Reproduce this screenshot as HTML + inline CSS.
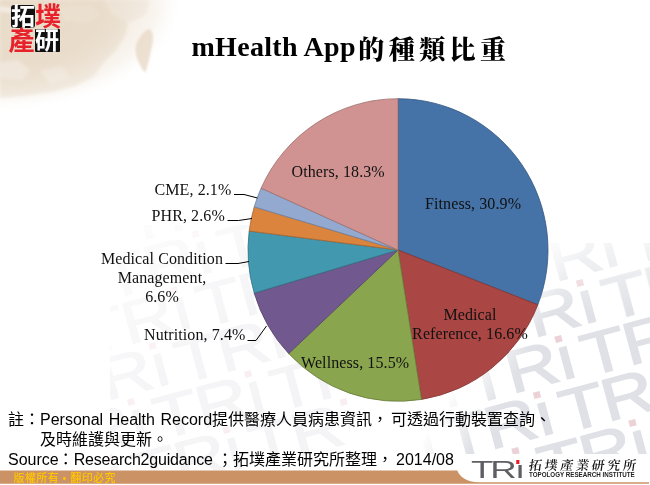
<!DOCTYPE html>
<html lang="zh-Hant">
<head>
<meta charset="utf-8">
<title>mHealth App的種類比重</title>
<style>
html,body{margin:0;padding:0;background:#fff;}
#slide{position:relative;width:650px;height:485px;overflow:hidden;background:#fff;font-family:"Liberation Sans","Noto Sans CJK TC",sans-serif;}
#slide *{box-sizing:border-box;}
.abs{position:absolute;white-space:nowrap;}
#bg{position:absolute;left:0;top:0;width:650px;height:485px;}
#title{left:191.5px;top:30.5px;font-family:"Liberation Serif","Noto Serif CJK SC",serif;font-weight:bold;font-size:28px;line-height:32px;color:#000;letter-spacing:0.3px;}
#title .cjk{letter-spacing:4.4px;font-size:26px;margin-left:2.5px;position:relative;top:3px;font-weight:900;}
.lbl{font-family:"Liberation Serif",serif;font-size:16px;line-height:19px;color:#111;text-align:center;letter-spacing:0.1px;}
.note{font-family:"Liberation Sans","Noto Sans CJK TC",sans-serif;font-size:16px;line-height:20px;color:#000;}
#copy{left:13.5px;top:472px;font-size:11px;line-height:13px;letter-spacing:0.4px;color:#ffc600;font-weight:500;font-family:"Liberation Sans","Noto Sans CJK TC",sans-serif;}
.lg{font-family:"Noto Sans CJK TC","Liberation Sans",sans-serif;font-weight:700;font-size:26px;line-height:24px;width:26px;height:24px;text-align:center;margin-left:-0.5px;margin-top:-0.5px;}
</style>
</head>
<body>
<div id="slide">
<svg id="bg" width="650" height="485" viewBox="0 0 650 485">
  <defs>
    <radialGradient id="g1" cx="0" cy="0" r="1" gradientUnits="userSpaceOnUse" gradientTransform="translate(0,0) scale(185,112)">
      <stop offset="0" stop-color="#efe5d8" stop-opacity="1"/>
      <stop offset="0.6" stop-color="#f1e8dc" stop-opacity="1"/>
      <stop offset="0.85" stop-color="#f6f0e8" stop-opacity="0.7"/>
      <stop offset="1" stop-color="#ffffff" stop-opacity="0"/>
    </radialGradient>
    <radialGradient id="g2" cx="0" cy="0" r="1" gradientUnits="userSpaceOnUse" gradientTransform="translate(0,0) scale(172,112)">
      <stop offset="0" stop-color="#fff" stop-opacity="1"/>
      <stop offset="0.6" stop-color="#fff" stop-opacity="0.95"/>
      <stop offset="0.9" stop-color="#fff" stop-opacity="0.35"/>
      <stop offset="1" stop-color="#fff" stop-opacity="0"/>
    </radialGradient>
    <mask id="mLand"><rect x="0" y="0" width="200" height="130" fill="url(#g2)"/></mask>
    <linearGradient id="wmR" gradientUnits="userSpaceOnUse" x1="480" y1="337" x2="523" y2="362">
      <stop offset="0" stop-color="#fff" stop-opacity="0"/>
      <stop offset="1" stop-color="#fff" stop-opacity="1"/>
    </linearGradient>
    <linearGradient id="wmRv" gradientUnits="userSpaceOnUse" x1="0" y1="243" x2="0" y2="315">
      <stop offset="0" stop-color="#000" stop-opacity="0.65"/>
      <stop offset="1" stop-color="#000" stop-opacity="0"/>
    </linearGradient>
    <mask id="mR"><path d="M540,243 L650,243 L650,454 L415,454 Z" fill="url(#wmR)"/><rect x="400" y="243" width="250" height="72" fill="url(#wmRv)"/></mask>
    <linearGradient id="wmL" gradientUnits="userSpaceOnUse" x1="120" y1="230" x2="300" y2="440">
      <stop offset="0" stop-color="#fff" stop-opacity="0.2"/>
      <stop offset="0.5" stop-color="#fff" stop-opacity="0.9"/>
      <stop offset="1" stop-color="#fff" stop-opacity="1"/>
    </linearGradient>
    <mask id="mL"><rect x="110" y="225" width="240" height="245" fill="url(#wmL)"/></mask>
    <filter id="bl" x="-20%" y="-20%" width="140%" height="140%"><feGaussianBlur stdDeviation="1.8"/></filter>
    <filter id="bl1" x="-20%" y="-20%" width="140%" height="140%"><feGaussianBlur stdDeviation="1"/></filter>
  </defs>
  <rect x="0" y="0" width="260" height="140" fill="url(#g1)"/>
  <g mask="url(#mLand)">
    <g filter="url(#bl)">
      <path d="M0,0 L104,0 L112,14 L128,22 L126,34 L116,50 L104,62 L94,76 L76,86 L52,92 L24,96 L0,98 Z" fill="#e8dbc9"/>
      <path d="M104,0 L150,0 L146,14 L130,22 L112,14 Z" fill="#ece2d4"/>
      <path d="M0,6 L16,9 L14,13 L0,12 Z" fill="#f3ece2"/>
      <path d="M0,62 L18,60 L30,70 L22,80 L0,78 Z" fill="#efe6da"/>
      <path d="M40,70 L62,66 L70,78 L50,84 Z" fill="#eee4d7"/>
      <path d="M60,8 L90,4 L100,16 L84,24 L66,20 Z" fill="#eadfce"/>
    </g>
  </g>
  <path d="M149,29 C153,30 154,38 152,46 C150,56 148,66 145,73 C140,66 134,56 136,46 C138,38 144,30 149,29 Z" fill="#eadccb" filter="url(#bl1)" opacity="0.85"/>
  <!-- watermark right -->
  <g mask="url(#mR)" font-family="Liberation Sans, sans-serif">
    <g transform="translate(417.9 265.0) rotate(-15) scale(1.22 1)"><text x="0" y="0" font-size="60" letter-spacing="-1.5" fill="#dfe1e6" stroke="#dfe1e6" stroke-width="1.3">TRı</text><rect x="80.9" y="-44.1" width="5.7" height="6.3" fill="#ecd2d6"/></g>
    <g transform="translate(534.9 237.0) rotate(-15) scale(1.22 1)"><text x="0" y="0" font-size="60" letter-spacing="-1.5" fill="#dfe1e6" stroke="#dfe1e6" stroke-width="1.3">TRı</text><rect x="80.9" y="-44.1" width="5.7" height="6.3" fill="#ecd2d6"/></g>
    <g transform="translate(651.9 209.0) rotate(-15) scale(1.22 1)"><text x="0" y="0" font-size="60" letter-spacing="-1.5" fill="#dfe1e6" stroke="#dfe1e6" stroke-width="1.3">TRı</text><rect x="80.9" y="-44.1" width="5.7" height="6.3" fill="#ecd2d6"/></g>
    <g transform="translate(396.4 321.0) rotate(-15) scale(1.22 1)"><text x="0" y="0" font-size="60" letter-spacing="-1.5" fill="#dfe1e6" stroke="#dfe1e6" stroke-width="1.3">TRı</text><rect x="80.9" y="-44.1" width="5.7" height="6.3" fill="#ecd2d6"/></g>
    <g transform="translate(513.4 293.0) rotate(-15) scale(1.22 1)"><text x="0" y="0" font-size="60" letter-spacing="-1.5" fill="#dfe1e6" stroke="#dfe1e6" stroke-width="1.3">TRı</text><rect x="80.9" y="-44.1" width="5.7" height="6.3" fill="#ecd2d6"/></g>
    <g transform="translate(630.4 265.0) rotate(-15) scale(1.22 1)"><text x="0" y="0" font-size="60" letter-spacing="-1.5" fill="#dfe1e6" stroke="#dfe1e6" stroke-width="1.3">TRı</text><rect x="80.9" y="-44.1" width="5.7" height="6.3" fill="#ecd2d6"/></g>
    <g transform="translate(374.9 377.0) rotate(-15) scale(1.22 1)"><text x="0" y="0" font-size="60" letter-spacing="-1.5" fill="#dfe1e6" stroke="#dfe1e6" stroke-width="1.3">TRı</text><rect x="80.9" y="-44.1" width="5.7" height="6.3" fill="#ecd2d6"/></g>
    <g transform="translate(491.9 349.0) rotate(-15) scale(1.22 1)"><text x="0" y="0" font-size="60" letter-spacing="-1.5" fill="#dfe1e6" stroke="#dfe1e6" stroke-width="1.3">TRı</text><rect x="80.9" y="-44.1" width="5.7" height="6.3" fill="#ecd2d6"/></g>
    <g transform="translate(608.9 321.0) rotate(-15) scale(1.22 1)"><text x="0" y="0" font-size="60" letter-spacing="-1.5" fill="#dfe1e6" stroke="#dfe1e6" stroke-width="1.3">TRı</text><rect x="80.9" y="-44.1" width="5.7" height="6.3" fill="#ecd2d6"/></g>
    <g transform="translate(353.4 433.0) rotate(-15) scale(1.22 1)"><text x="0" y="0" font-size="60" letter-spacing="-1.5" fill="#dfe1e6" stroke="#dfe1e6" stroke-width="1.3">TRı</text><rect x="80.9" y="-44.1" width="5.7" height="6.3" fill="#ecd2d6"/></g>
    <g transform="translate(470.4 405.0) rotate(-15) scale(1.22 1)"><text x="0" y="0" font-size="60" letter-spacing="-1.5" fill="#dfe1e6" stroke="#dfe1e6" stroke-width="1.3">TRı</text><rect x="80.9" y="-44.1" width="5.7" height="6.3" fill="#ecd2d6"/></g>
    <g transform="translate(587.4 377.0) rotate(-15) scale(1.22 1)"><text x="0" y="0" font-size="60" letter-spacing="-1.5" fill="#dfe1e6" stroke="#dfe1e6" stroke-width="1.3">TRı</text><rect x="80.9" y="-44.1" width="5.7" height="6.3" fill="#ecd2d6"/></g>
    <g transform="translate(331.9 489.0) rotate(-15) scale(1.22 1)"><text x="0" y="0" font-size="60" letter-spacing="-1.5" fill="#dfe1e6" stroke="#dfe1e6" stroke-width="1.3">TRı</text><rect x="80.9" y="-44.1" width="5.7" height="6.3" fill="#ecd2d6"/></g>
    <g transform="translate(448.9 461.0) rotate(-15) scale(1.22 1)"><text x="0" y="0" font-size="60" letter-spacing="-1.5" fill="#dfe1e6" stroke="#dfe1e6" stroke-width="1.3">TRı</text><rect x="80.9" y="-44.1" width="5.7" height="6.3" fill="#ecd2d6"/></g>
    <g transform="translate(565.9 433.0) rotate(-15) scale(1.22 1)"><text x="0" y="0" font-size="60" letter-spacing="-1.5" fill="#dfe1e6" stroke="#dfe1e6" stroke-width="1.3">TRı</text><rect x="80.9" y="-44.1" width="5.7" height="6.3" fill="#ecd2d6"/></g>
    <g transform="translate(682.9 405.0) rotate(-15) scale(1.22 1)"><text x="0" y="0" font-size="60" letter-spacing="-1.5" fill="#dfe1e6" stroke="#dfe1e6" stroke-width="1.3">TRı</text><rect x="80.9" y="-44.1" width="5.7" height="6.3" fill="#ecd2d6"/></g>
    <g transform="translate(310.4 545.0) rotate(-15) scale(1.22 1)"><text x="0" y="0" font-size="60" letter-spacing="-1.5" fill="#dfe1e6" stroke="#dfe1e6" stroke-width="1.3">TRı</text><rect x="80.9" y="-44.1" width="5.7" height="6.3" fill="#ecd2d6"/></g>
    <g transform="translate(427.4 517.0) rotate(-15) scale(1.22 1)"><text x="0" y="0" font-size="60" letter-spacing="-1.5" fill="#dfe1e6" stroke="#dfe1e6" stroke-width="1.3">TRı</text><rect x="80.9" y="-44.1" width="5.7" height="6.3" fill="#ecd2d6"/></g>
    <g transform="translate(544.4 489.0) rotate(-15) scale(1.22 1)"><text x="0" y="0" font-size="60" letter-spacing="-1.5" fill="#dfe1e6" stroke="#dfe1e6" stroke-width="1.3">TRı</text><rect x="80.9" y="-44.1" width="5.7" height="6.3" fill="#ecd2d6"/></g>
    <g transform="translate(661.4 461.0) rotate(-15) scale(1.22 1)"><text x="0" y="0" font-size="60" letter-spacing="-1.5" fill="#dfe1e6" stroke="#dfe1e6" stroke-width="1.3">TRı</text><rect x="80.9" y="-44.1" width="5.7" height="6.3" fill="#ecd2d6"/></g>
    <g transform="translate(288.9 601.0) rotate(-15) scale(1.22 1)"><text x="0" y="0" font-size="60" letter-spacing="-1.5" fill="#dfe1e6" stroke="#dfe1e6" stroke-width="1.3">TRı</text><rect x="80.9" y="-44.1" width="5.7" height="6.3" fill="#ecd2d6"/></g>
    <g transform="translate(405.9 573.0) rotate(-15) scale(1.22 1)"><text x="0" y="0" font-size="60" letter-spacing="-1.5" fill="#dfe1e6" stroke="#dfe1e6" stroke-width="1.3">TRı</text><rect x="80.9" y="-44.1" width="5.7" height="6.3" fill="#ecd2d6"/></g>
    <g transform="translate(522.9 545.0) rotate(-15) scale(1.22 1)"><text x="0" y="0" font-size="60" letter-spacing="-1.5" fill="#dfe1e6" stroke="#dfe1e6" stroke-width="1.3">TRı</text><rect x="80.9" y="-44.1" width="5.7" height="6.3" fill="#ecd2d6"/></g>
    <g transform="translate(639.9 517.0) rotate(-15) scale(1.22 1)"><text x="0" y="0" font-size="60" letter-spacing="-1.5" fill="#dfe1e6" stroke="#dfe1e6" stroke-width="1.3">TRı</text><rect x="80.9" y="-44.1" width="5.7" height="6.3" fill="#ecd2d6"/></g>
  </g>
  <!-- watermark left (very faint) -->
  <g mask="url(#mL)" font-family="Liberation Sans, sans-serif">
    <g transform="translate(129.0 244.0) rotate(-15) scale(1.22 1)"><text x="0" y="0" font-size="60" letter-spacing="-1.5" fill="#f4f4f6" stroke="#f4f4f6" stroke-width="1">TRı</text><rect x="80.9" y="-44.1" width="5.7" height="6.3" fill="#f9eef0"/></g>
    <g transform="translate(246.0 216.0) rotate(-15) scale(1.22 1)"><text x="0" y="0" font-size="60" letter-spacing="-1.5" fill="#f4f4f6" stroke="#f4f4f6" stroke-width="1">TRı</text><rect x="80.9" y="-44.1" width="5.7" height="6.3" fill="#f9eef0"/></g>
    <g transform="translate(363.0 188.0) rotate(-15) scale(1.22 1)"><text x="0" y="0" font-size="60" letter-spacing="-1.5" fill="#f4f4f6" stroke="#f4f4f6" stroke-width="1">TRı</text><rect x="80.9" y="-44.1" width="5.7" height="6.3" fill="#f9eef0"/></g>
    <g transform="translate(480.0 160.0) rotate(-15) scale(1.22 1)"><text x="0" y="0" font-size="60" letter-spacing="-1.5" fill="#f4f4f6" stroke="#f4f4f6" stroke-width="1">TRı</text><rect x="80.9" y="-44.1" width="5.7" height="6.3" fill="#f9eef0"/></g>
    <g transform="translate(107.5 300.0) rotate(-15) scale(1.22 1)"><text x="0" y="0" font-size="60" letter-spacing="-1.5" fill="#f4f4f6" stroke="#f4f4f6" stroke-width="1">TRı</text><rect x="80.9" y="-44.1" width="5.7" height="6.3" fill="#f9eef0"/></g>
    <g transform="translate(224.5 272.0) rotate(-15) scale(1.22 1)"><text x="0" y="0" font-size="60" letter-spacing="-1.5" fill="#f4f4f6" stroke="#f4f4f6" stroke-width="1">TRı</text><rect x="80.9" y="-44.1" width="5.7" height="6.3" fill="#f9eef0"/></g>
    <g transform="translate(341.5 244.0) rotate(-15) scale(1.22 1)"><text x="0" y="0" font-size="60" letter-spacing="-1.5" fill="#f4f4f6" stroke="#f4f4f6" stroke-width="1">TRı</text><rect x="80.9" y="-44.1" width="5.7" height="6.3" fill="#f9eef0"/></g>
    <g transform="translate(458.5 216.0) rotate(-15) scale(1.22 1)"><text x="0" y="0" font-size="60" letter-spacing="-1.5" fill="#f4f4f6" stroke="#f4f4f6" stroke-width="1">TRı</text><rect x="80.9" y="-44.1" width="5.7" height="6.3" fill="#f9eef0"/></g>
    <g transform="translate(86.0 356.0) rotate(-15) scale(1.22 1)"><text x="0" y="0" font-size="60" letter-spacing="-1.5" fill="#f4f4f6" stroke="#f4f4f6" stroke-width="1">TRı</text><rect x="80.9" y="-44.1" width="5.7" height="6.3" fill="#f9eef0"/></g>
    <g transform="translate(203.0 328.0) rotate(-15) scale(1.22 1)"><text x="0" y="0" font-size="60" letter-spacing="-1.5" fill="#f4f4f6" stroke="#f4f4f6" stroke-width="1">TRı</text><rect x="80.9" y="-44.1" width="5.7" height="6.3" fill="#f9eef0"/></g>
    <g transform="translate(320.0 300.0) rotate(-15) scale(1.22 1)"><text x="0" y="0" font-size="60" letter-spacing="-1.5" fill="#f4f4f6" stroke="#f4f4f6" stroke-width="1">TRı</text><rect x="80.9" y="-44.1" width="5.7" height="6.3" fill="#f9eef0"/></g>
    <g transform="translate(437.0 272.0) rotate(-15) scale(1.22 1)"><text x="0" y="0" font-size="60" letter-spacing="-1.5" fill="#f4f4f6" stroke="#f4f4f6" stroke-width="1">TRı</text><rect x="80.9" y="-44.1" width="5.7" height="6.3" fill="#f9eef0"/></g>
    <g transform="translate(64.5 412.0) rotate(-15) scale(1.22 1)"><text x="0" y="0" font-size="60" letter-spacing="-1.5" fill="#f4f4f6" stroke="#f4f4f6" stroke-width="1">TRı</text><rect x="80.9" y="-44.1" width="5.7" height="6.3" fill="#f9eef0"/></g>
    <g transform="translate(181.5 384.0) rotate(-15) scale(1.22 1)"><text x="0" y="0" font-size="60" letter-spacing="-1.5" fill="#f4f4f6" stroke="#f4f4f6" stroke-width="1">TRı</text><rect x="80.9" y="-44.1" width="5.7" height="6.3" fill="#f9eef0"/></g>
    <g transform="translate(298.5 356.0) rotate(-15) scale(1.22 1)"><text x="0" y="0" font-size="60" letter-spacing="-1.5" fill="#f4f4f6" stroke="#f4f4f6" stroke-width="1">TRı</text><rect x="80.9" y="-44.1" width="5.7" height="6.3" fill="#f9eef0"/></g>
    <g transform="translate(415.5 328.0) rotate(-15) scale(1.22 1)"><text x="0" y="0" font-size="60" letter-spacing="-1.5" fill="#f4f4f6" stroke="#f4f4f6" stroke-width="1">TRı</text><rect x="80.9" y="-44.1" width="5.7" height="6.3" fill="#f9eef0"/></g>
    <g transform="translate(43.0 468.0) rotate(-15) scale(1.22 1)"><text x="0" y="0" font-size="60" letter-spacing="-1.5" fill="#f4f4f6" stroke="#f4f4f6" stroke-width="1">TRı</text><rect x="80.9" y="-44.1" width="5.7" height="6.3" fill="#f9eef0"/></g>
    <g transform="translate(160.0 440.0) rotate(-15) scale(1.22 1)"><text x="0" y="0" font-size="60" letter-spacing="-1.5" fill="#f4f4f6" stroke="#f4f4f6" stroke-width="1">TRı</text><rect x="80.9" y="-44.1" width="5.7" height="6.3" fill="#f9eef0"/></g>
    <g transform="translate(277.0 412.0) rotate(-15) scale(1.22 1)"><text x="0" y="0" font-size="60" letter-spacing="-1.5" fill="#f4f4f6" stroke="#f4f4f6" stroke-width="1">TRı</text><rect x="80.9" y="-44.1" width="5.7" height="6.3" fill="#f9eef0"/></g>
    <g transform="translate(394.0 384.0) rotate(-15) scale(1.22 1)"><text x="0" y="0" font-size="60" letter-spacing="-1.5" fill="#f4f4f6" stroke="#f4f4f6" stroke-width="1">TRı</text><rect x="80.9" y="-44.1" width="5.7" height="6.3" fill="#f9eef0"/></g>
    <g transform="translate(21.5 524.0) rotate(-15) scale(1.22 1)"><text x="0" y="0" font-size="60" letter-spacing="-1.5" fill="#f4f4f6" stroke="#f4f4f6" stroke-width="1">TRı</text><rect x="80.9" y="-44.1" width="5.7" height="6.3" fill="#f9eef0"/></g>
    <g transform="translate(138.5 496.0) rotate(-15) scale(1.22 1)"><text x="0" y="0" font-size="60" letter-spacing="-1.5" fill="#f4f4f6" stroke="#f4f4f6" stroke-width="1">TRı</text><rect x="80.9" y="-44.1" width="5.7" height="6.3" fill="#f9eef0"/></g>
    <g transform="translate(255.5 468.0) rotate(-15) scale(1.22 1)"><text x="0" y="0" font-size="60" letter-spacing="-1.5" fill="#f4f4f6" stroke="#f4f4f6" stroke-width="1">TRı</text><rect x="80.9" y="-44.1" width="5.7" height="6.3" fill="#f9eef0"/></g>
    <g transform="translate(372.5 440.0) rotate(-15) scale(1.22 1)"><text x="0" y="0" font-size="60" letter-spacing="-1.5" fill="#f4f4f6" stroke="#f4f4f6" stroke-width="1">TRı</text><rect x="80.9" y="-44.1" width="5.7" height="6.3" fill="#f9eef0"/></g>
  </g>
  <!-- pie -->
  <g>
<path d="M398,250 L398.00,98.70 A150,151.3 0 0 1 537.81,304.81 Z" fill="#4572A7" stroke="#34567e" stroke-width="0.8" stroke-linejoin="round"/>
<path d="M398,250 L537.81,304.81 A150,151.3 0 0 1 421.47,399.44 Z" fill="#AA4643" stroke="#803532" stroke-width="0.8" stroke-linejoin="round"/>
<path d="M398,250 L421.47,399.44 A150,151.3 0 0 1 288.65,353.57 Z" fill="#89A54E" stroke="#677c3b" stroke-width="0.8" stroke-linejoin="round"/>
<path d="M398,250 L288.65,353.57 A150,151.3 0 0 1 254.22,293.12 Z" fill="#71588F" stroke="#55426b" stroke-width="0.8" stroke-linejoin="round"/>
<path d="M398,250 L254.22,293.12 A150,151.3 0 0 1 249.18,231.04 Z" fill="#4198AF" stroke="#317283" stroke-width="0.8" stroke-linejoin="round"/>
<path d="M398,250 L249.18,231.04 A150,151.3 0 0 1 254.22,206.88 Z" fill="#DB843D" stroke="#a4632e" stroke-width="0.8" stroke-linejoin="round"/>
<path d="M398,250 L254.22,206.88 A150,151.3 0 0 1 261.10,188.17 Z" fill="#93A9CF" stroke="#6e7f9b" stroke-width="0.8" stroke-linejoin="round"/>
<path d="M398,250 L261.10,188.17 A150,151.3 0 0 1 398.00,98.70 Z" fill="#D19392" stroke="#9d6e6d" stroke-width="0.8" stroke-linejoin="round"/>
  </g>
  <!-- leader lines -->
  <g fill="none" stroke="#000" stroke-width="1">
    <polyline points="234,194.5 244,194.5 257.5,198"/>
    <polyline points="227.5,220.5 238.5,220.5 252,218.5"/>
    <polyline points="225.5,263.5 238,263.5 249,261.5"/>
    <polyline points="247.5,340.5 256,340.5 266.5,326"/>
  </g>
  <!-- bottom bar -->
  <path d="M0,470.4 L457.3,470.4 C459.5,476.5 466,481.8 479,482.2 L649,482.2 L649,483.7 L0,483.7 Z" fill="#cb9265"/>
</svg>

<!-- logo top-left -->
<div class="abs" style="left:10.5px;top:4.5px;width:24.5px;height:23px;background:#111;border-radius:3px;"></div>
<div class="abs" style="left:34.5px;top:28.5px;width:25px;height:23px;background:#111;border-radius:1px;"></div>
<div class="abs lg" style="left:10.5px;top:3.5px;color:#fff;font-size:24px;">拓</div>
<div class="abs lg" style="left:35.5px;top:3.5px;color:#e8222a;">墣</div>
<div class="abs lg" style="left:9px;top:27.5px;color:#e8222a;">產</div>
<div class="abs lg" style="left:34.5px;top:27.5px;color:#fff;font-size:24px;">研</div>

<div id="title" class="abs">mHealth App<span class="cjk">的種類比重</span></div>

<!-- labels -->
<div class="abs lbl" style="left:425px;top:194px;">Fitness, 30.9%</div>
<div class="abs lbl" style="left:410px;top:305px;width:120px;">Medical<br>Reference, 16.6%</div>
<div class="abs lbl" style="left:301px;top:352.5px;">Wellness, 15.5%</div>
<div class="abs lbl" style="left:144px;top:325px;">Nutrition, 7.4%</div>
<div class="abs lbl" style="left:92px;top:249px;width:140px;">Medical Condition<br>Management,<br>6.6%</div>
<div class="abs lbl" style="left:151.5px;top:206px;">PHR, 2.6%</div>
<div class="abs lbl" style="left:154.5px;top:180px;">CME, 2.1%</div>
<div class="abs lbl" style="left:291.5px;top:162px;">Others, 18.3%</div>

<!-- notes -->
<div class="abs note" style="left:8px;top:410px;word-spacing:1.1px;">註：Personal Health Record提供醫療人員病患資訊<span style="margin-right:2.8px">，</span>可透過行動裝置查詢、</div>
<div class="abs note" style="left:40px;top:430px;">及時維護與更新。</div>
<div class="abs note" style="left:8px;top:450px;">Source<span style="position:relative;left:-1px;">：</span><span style="letter-spacing:-0.2px;margin-left:-1px;margin-right:4.4px;">Research2guidance</span>；拓墣產業研究所整理<span style="margin-right:3px">，</span>2014/08</div>

<div id="copy" class="abs">版權所有 • 翻印必究</div>

<!-- TRI logo bottom right -->
<div class="abs" style="left:470.6px;top:457.3px;font-family:'Liberation Sans',sans-serif;font-size:23.5px;line-height:26px;color:#5f5f63;transform-origin:0 0;transform:scaleX(1.56);"><span style="letter-spacing:-2.1px;">T</span><span style="letter-spacing:-1.1px;">R</span><span style="position:relative;">ı<span style="position:absolute;left:0.9px;top:3.2px;width:2.4px;height:3.6px;background:#ee1c25;"></span></span></div>
<div class="abs" style="left:529px;top:456px;font-family:'Noto Serif CJK SC','Noto Sans CJK TC',serif;font-weight:600;font-size:13px;line-height:18px;letter-spacing:2.7px;color:#111;transform-origin:0 50%;transform:skewX(-8deg);">拓墣產業研究所</div>
<div class="abs" style="left:529px;top:470.5px;font-family:'Liberation Sans',sans-serif;font-size:6.5px;font-weight:bold;line-height:8px;color:#222;transform-origin:0 0;transform:scaleX(0.958);" id="tri-en">TOPOLOGY RESEARCH INSTITUTE</div>
</div>
</body>
</html>
